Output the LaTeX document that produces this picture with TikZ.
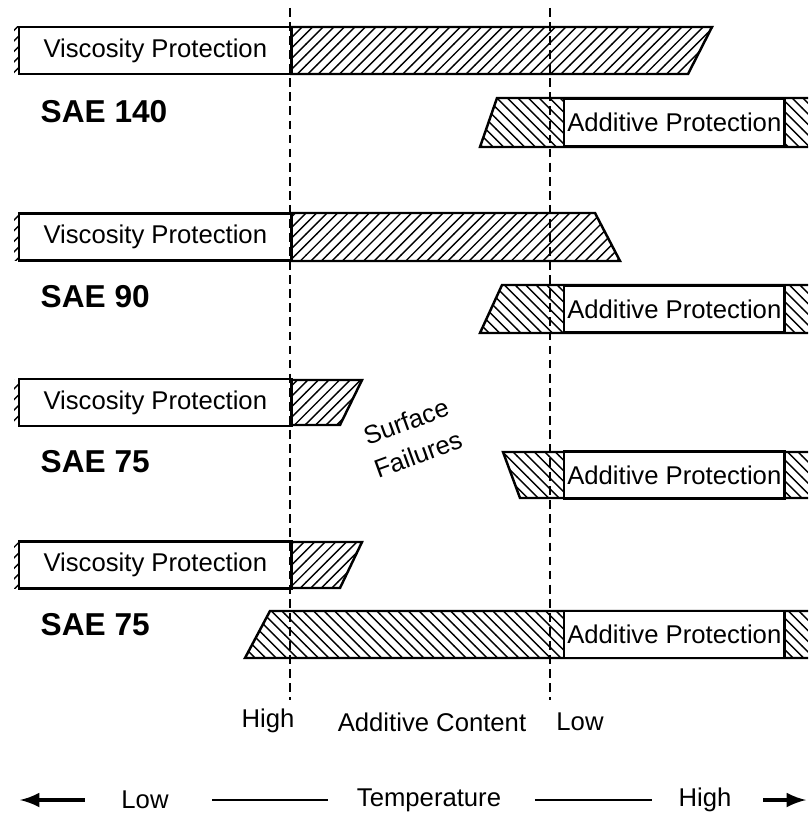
\documentclass[tikz,border=0pt]{standalone}
\usepackage{fontspec}
\setmainfont{Liberation Sans}
\usetikzlibrary{patterns}

\begin{document}
\begin{tikzpicture}[x=0.01cm, y=-0.01cm]
	\tikzset{texte/.style={font=\fontsize{7.3}{8.5}\selectfont, inner sep=0pt},
		grade/.style={font=\fontsize{9}{10}\selectfont\bfseries, anchor=west, inner sep=0pt},
		boite/.style={draw, fill=white, line width=0.7pt, minimum height=0.47cm, minimum width=#1, inner sep=0pt, anchor=west, font=\fontsize{7.3}{8.5}\selectfont},
		hachvisc/.style={pattern=north east lines},
		hachadd/.style={pattern=north west lines},
		bord/.style={line width=0.7pt},
		pointille/.style={dash pattern=on 2.5pt off 1.5pt, line width=0.5pt},
		fleche/.style={>=latex, ->, line width=0.9pt}};

	\useasboundingbox (0,0) rectangle (808,825);

	\draw[bord, hachvisc] (290, 27) -- (712, 27) -- (688, 74) -- (290, 74);
	\draw[bord, hachvisc] (290,213) -- (595,213) -- (620,261) -- (290,261);
	\draw[bord, hachvisc] (290,380) -- (362,380) -- (340,425) -- (290,425);
	\draw[bord, hachvisc] (290,542) -- (362,542) -- (340,588) -- (290,588);

	\fill[hachvisc] (14, 27) rectangle (18, 74);
	\fill[hachvisc] (14,213) rectangle (18,261);
	\fill[hachvisc] (14,380) rectangle (18,425);
	\fill[hachvisc] (14,542) rectangle (18,588);

	\node[boite=2.72cm] (visc1) at (18, 50.5) {Viscosity Protection};
	\node[boite=2.72cm] (visc2) at (18,  237) {Viscosity Protection};
	\node[boite=2.72cm] (visc3) at (18,402.5) {Viscosity Protection};
	\node[boite=2.72cm] (visc4) at (18,  565) {Viscosity Protection};

	\draw[bord, hachadd] (808, 98) -- (497, 98) -- (480,147) -- (808,147);
	\draw[bord, hachadd] (808,285) -- (502,285) -- (480,333) -- (808,333);
	\draw[bord, hachadd] (808,452) -- (503,452) -- (520,498) -- (808,498);
	\draw[bord, hachadd] (808,611) -- (270,611) -- (245,658) -- (808,658);

	\node[boite=2.2cm] (add1) at (563,122.5) {Additive Protection};
	\node[boite=2.2cm] (add2) at (563,  309) {Additive Protection};
	\node[boite=2.2cm] (add3) at (563,  475) {Additive Protection};
	\node[boite=2.2cm] (add4) at (563,634.5) {Additive Protection};

	\node[grade] (sae1) at (40,112) {SAE 140};
	\node[grade] (sae2) at (40,297) {SAE 90};
	\node[grade] (sae3) at (40,462) {SAE 75};
	\node[grade] (sae4) at (40,625) {SAE 75};

	\node[texte, font=\fontsize{7.3}{10}\selectfont, rotate=20, align=center] (surf) at (412,438) {Surface\\Failures};

	\coordinate (hautH) at (290,  8);
	\coordinate (basH)  at (290,700);
	\coordinate (hautL) at (550,  8);
	\coordinate (basL)  at (550,700);
	\draw[pointille] (hautH) -- (basH);
	\draw[pointille] (hautL) -- (basL);

	\node[texte] (cHigh) at (268,721) {High};
	\node[texte] (cont)  at (432,722) {Additive Content};
	\node[texte] (cLow)  at (580,722) {Low};

	\node[texte] (tLow)  at (145,800) {Low};
	\node[texte] (temp)  at (429,800) {Temperature};
	\node[texte] (tHigh) at (705,800) {High};
	\coordinate (gauche) at (20,800);
	\coordinate (droite) at (806,800);

	\draw[fleche, shorten <=0.36cm] (tLow) -- (gauche);
	\draw[line width=0.8pt, shorten <=0.43cm, shorten >=0.28cm] (tLow) -- (temp);
	\draw[line width=0.8pt, shorten <=0.33cm, shorten >=0.26cm] (temp) -- (tHigh);
	\draw[fleche, shorten <=0.31cm] (tHigh) -- (droite);

\end{tikzpicture}
\end{document}
